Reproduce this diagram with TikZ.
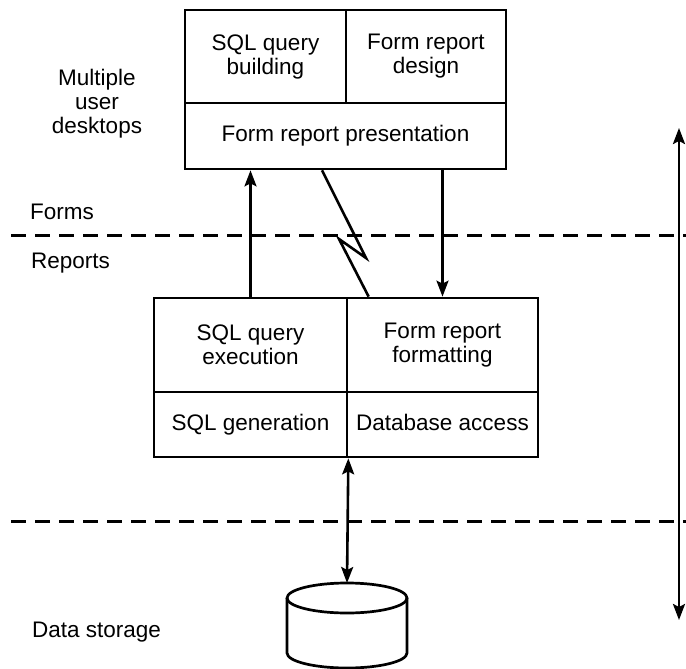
\documentclass[tikz,border=0pt]{standalone}
\usepackage{fontspec}
\setmainfont{Liberation Sans}
\usetikzlibrary{arrows.meta}
\begin{document}
\begin{tikzpicture}[x=1pt,y=-1pt,
  txt/.style={font=\fontsize{22.5}{24}\selectfont},
  cell/.style={txt,draw,line width=2.7pt,inner sep=0pt,align=center,anchor=center},
  oneline/.style={text height=16.5pt,text depth=4.7pt},
  lbl/.style={txt,inner sep=0pt},
  tip/.tip={Stealth[length=16pt,width=12pt,inset=3pt]},
  arr/.style={line width=2.6pt,-tip},
  darr/.style={line width=2.6pt,tip-tip},
  bolt/.style={line width=2.6pt,line join=miter},
  sep/.style={line width=3pt,dash pattern=on 15pt off 9pt}]
\useasboundingbox (0,0) rectangle (686,669);

% dashed separators
\draw[sep] (11,235) -- (686,235);
\draw[sep] (11,521) -- (686,521);

% left labels
\node[lbl,align=center] (desk) at (97,104) {Multiple\\user\\desktops};
\node[lbl,anchor=base west] (forms) at (30,219) {Forms};
\node[lbl,anchor=base west] (reports) at (31,268) {Reports};
\node[lbl,anchor=base west] (storage) at (32,637) {Data storage};

% top box
\node[cell,minimum width=161pt,minimum height=93pt] (ttl) at (265.5,56.5) {SQL query\\building};
\node[cell,minimum width=160pt,minimum height=93pt] (ttr) at (426,56.5) {Form report\\design};
\node[cell,oneline,minimum width=321pt,minimum height=66pt] (tbot) at (345.5,136) {Form report presentation};

% bottom box
\node[cell,minimum width=193pt,minimum height=94pt] (btl) at (250.5,345) {SQL query\\execution};
\node[cell,minimum width=191pt,minimum height=94pt] (btr) at (442.5,345) {Form report\\formatting};
\node[cell,oneline,minimum width=193pt,minimum height=65pt] (bbl) at (250.5,424.5) {SQL generation};
\node[cell,oneline,minimum width=191pt,minimum height=65pt] (bbr) at (442.5,424.5) {Database access};

% connectors between boxes
\draw[arr] (btl.north) -- (btl.north |- tbot.south);
\draw[arr] (btr.north |- tbot.south) -- (btr.north);
\draw[bolt] ([xshift=-23.5pt]tbot.south) -- (366,258) -- (339,239) -- ([xshift=23pt]btr.north west);

% database cylinder
\coordinate (dbtop) at (347,583);
\draw[line width=2.7pt] (347,598) ellipse [x radius=60pt, y radius=15pt];
\draw[line width=2.7pt] (287,598) -- (287,653)
  arc[start angle=180,end angle=360,x radius=60pt,y radius=15pt] -- (407,598);
\draw[darr] (bbl.south east) -- (dbtop);

% right extent arrow
\coordinate (rtop) at (679,128);
\coordinate (rbot) at (679,620);
\draw[darr] (rtop) -- (rbot);
\end{tikzpicture}
\end{document}
